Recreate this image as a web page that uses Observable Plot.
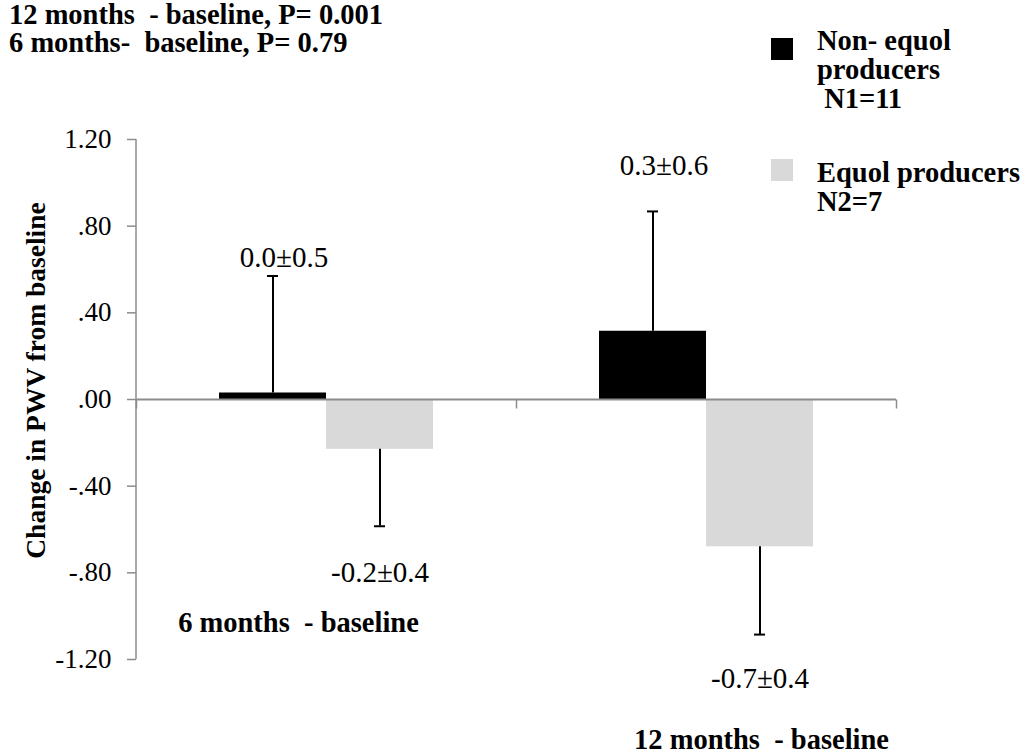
<!DOCTYPE html>
<html>
<head>
<meta charset="utf-8">
<script src="https://cdn.jsdelivr.net/npm/d3@7"></script>
<script src="https://cdn.jsdelivr.net/npm/@observablehq/plot@0.6"></script>
<style>
  body { margin: 0; background: #fff; }
  #wrap { position: relative; width: 1030px; height: 756px; font-family: "Liberation Serif", "Times New Roman", serif; color: #000; }
  #chart svg text { white-space: pre; }
  #title { position: absolute; left: 9px; top: 1px; font-weight: bold; font-size: 28.5px; line-height: 28px; white-space: pre; }
  .leg { position: absolute; left: 817px; font-weight: bold; font-size: 28.5px; line-height: 29px; white-space: pre; }
  .sw { position: absolute; left: 771px; width: 22px; height: 22px; }
</style>
</head>
<body>
<div id="wrap">
  <div id="chart"></div>
  <div id="title"></div>
  <div id="legend"></div>
</div>
<script>
// ---- data ----
const groups = ["6 months  - baseline", "12 months  - baseline"];
const series = ["Non-equol producers", "Equol producers"];
const nonEquolMean = [0.03, 0.315];
const nonEquolSD = [0.54, 0.553];
const equolMean = [-0.23, -0.68];
const equolSD = [0.355, 0.405];
const nonEquolLabels = ["0.0\u00b10.5", "0.3\u00b10.6"];
const equolLabels = ["-0.2\u00b10.4", "-0.7\u00b10.4"];
const yTicks = [-1.2, -0.8, -0.4, 0, 0.4, 0.8, 1.2];
const yTickLabels = ["-1.20", "-.80", "-.40", ".00", ".40", ".80", "1.20"];
const yLabel = "Change in PWV from baseline";
const titleLines = ["12 months  - baseline, P= 0.001", "6 months-  baseline, P= 0.79"];
const legendLines = [["Non- equol", "producers", " N1=11"], ["Equol producers", "N2=7"]];

// ---- layout (label placement, not data) ----
const layout = {
  nonEquolLabelY: [0.655, 1.08],
  equolLabelY: [-0.80, -1.29],
  colors: ["#000000", "#d9d9d9"],
  axisGray: "#8c8c8c"
};

const rows = groups.flatMap((g, i) => [
  {group: g, series: series[0], mean: nonEquolMean[i], sd: nonEquolSD[i], label: nonEquolLabels[i], ly: layout.nonEquolLabelY[i]},
  {group: g, series: series[1], mean: equolMean[i], sd: equolSD[i], label: equolLabels[i], ly: layout.equolLabelY[i]}
]);
const errEnd = d => d.mean + Math.sign(d.mean) * d.sd;
const tickDown = {draw(ctx) { ctx.moveTo(0, 0); ctx.lineTo(0, 9); }};

const plot = Plot.plot({
  width: 1030,
  height: 756,
  marginTop: 139,
  marginBottom: 97,
  marginLeft: 135,
  marginRight: 134,
  style: {fontFamily: "'Liberation Serif', 'Times New Roman', serif", fontSize: "27px", color: "#000", background: "transparent"},
  fx: {domain: groups, padding: 0, axis: null},
  x: {domain: series, paddingInner: 0, paddingOuter: 0.762, axis: null},
  y: {domain: [-1.2, 1.2]},
  color: {domain: series, range: layout.colors},
  marks: [
    Plot.barY(rows, {fx: "group", x: "series", y: "mean", fill: "series"}),
    Plot.ruleY([0], {stroke: layout.axisGray, strokeWidth: 2}),
    Plot.dot([0], {y: d => d, frameAnchor: "left", symbol: tickDown, stroke: layout.axisGray, strokeWidth: 1.5, fill: "none"}),
    Plot.dot([groups[1]], {fx: d => d, y: () => 0, frameAnchor: "right", symbol: tickDown, stroke: layout.axisGray, strokeWidth: 1.5, fill: "none"}),
    Plot.ruleX(rows, {fx: "group", x: "series", y1: "mean", y2: errEnd, stroke: "#000", strokeWidth: 2}),
    Plot.tickY(rows, {fx: "group", x: "series", y: errEnd, stroke: "#000", strokeWidth: 2, insetLeft: 48, insetRight: 48}),
    Plot.axisY({ticks: yTicks, tickFormat: d => yTickLabels[yTicks.indexOf(d)], tickSize: 9, tickPadding: 16,
      stroke: layout.axisGray, strokeWidth: 1.5, label: null, color: "#000", fontSize: 27}),
    Plot.text(rows.filter(d => d.series === series[0]), {fx: "group", x: "series", y: "ly", text: "label", dx: 11, fontSize: 29, fill: "#000"}),
    Plot.text(rows.filter(d => d.series === series[1]), {fx: "group", x: "series", y: "ly", text: "label", fontSize: 29, fill: "#000"}),
    Plot.text([groups[0]], {fx: d => d, text: d => d, frameAnchor: "bottom", textAnchor: "middle", lineAnchor: "middle", dx: -28, dy: -37, fontWeight: "bold", fontSize: 28.5, fill: "#000"}),
    Plot.text([groups[1]], {fx: d => d, text: d => d, frameAnchor: "bottom", textAnchor: "middle", lineAnchor: "middle", dx: 55, dy: 80, fontWeight: "bold", fontSize: 28.5, fill: "#000"}),
    Plot.text([yLabel], {fx: () => groups[0], text: d => d, frameAnchor: "left", textAnchor: "middle", lineAnchor: "middle", rotate: -90, dx: -100, dy: -19, fontWeight: "bold", fontSize: 27.5, fill: "#000"})
  ]
});
document.getElementById("chart").appendChild(plot);

// y-axis line drawn from the plot's own scales
const ys = plot.scale("y"), fxs = plot.scale("fx");
const ax = fxs.apply(groups[0]);
d3.select(plot).append("line")
  .attr("x1", ax).attr("x2", ax)
  .attr("y1", ys.apply(yTicks[yTicks.length - 1])).attr("y2", ys.apply(yTicks[0]))
  .attr("stroke", layout.axisGray).attr("stroke-width", 1.5);

// title
const title = document.getElementById("title");
title.innerHTML = titleLines.map(t => `<div>${t}</div>`).join("");

// legend
const legend = document.getElementById("legend");
const legTops = [26, 158];
const swTops = [38, 159];
legendLines.forEach((lines, i) => {
  const sw = document.createElement("div");
  sw.className = "sw";
  sw.style.top = swTops[i] + "px";
  sw.style.background = layout.colors[i];
  legend.appendChild(sw);
  const t = document.createElement("div");
  t.className = "leg";
  t.style.top = legTops[i] + "px";
  t.innerHTML = lines.map(l => `<div>${l}</div>`).join("");
  legend.appendChild(t);
});
</script>
</body>
</html>
